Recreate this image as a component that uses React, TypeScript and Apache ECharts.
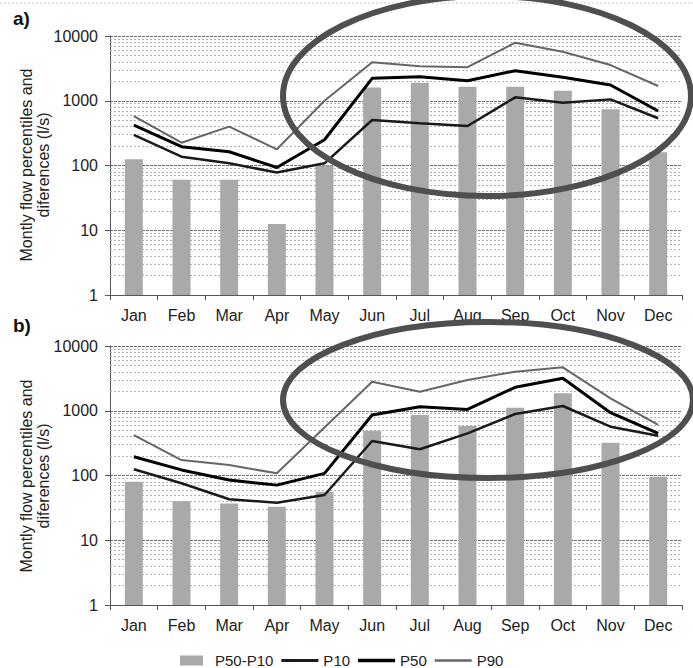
import React, { useEffect, useRef } from "react";
import * as echarts from "echarts";

const months = ["Jan", "Feb", "Mar", "Apr", "May", "Jun", "Jul", "Aug", "Sep", "Oct", "Nov", "Dec"];

// Panel a)
const diffA = [125, 60, 60, 12.5, 100, 1600, 1900, 1650, 1650, 1430, 740, 160];
const p10A = [296, 137, 108, 78, 108, 504, 448, 407, 1130, 933, 1050, 536];
const p50A = [422, 195, 163, 93, 250, 2220, 2350, 2040, 2910, 2300, 1750, 695];
const p90A = [581, 225, 398, 178, 1000, 3925, 3400, 3300, 7880, 5720, 3560, 1690];

// Panel b)
const diffB = [80, 40, 37, 33, 56, 490, 860, 580, 1110, 1860, 320, 96];
const p10B = [125, 76, 43, 38, 50, 341, 254, 448, 891, 1184, 567, 410];
const p50B = [195, 122, 85, 71, 108, 860, 1155, 1050, 2300, 3170, 933, 448];
const p90B = [422, 173, 145, 108, 550, 2810, 1970, 2985, 4010, 4690, 1557, 603];

const yTicks = [1, 10, 100, 1000, 10000];
const minorGrid = [
  2, 3, 4, 5, 6, 7, 8, 9,
  20, 30, 40, 50, 60, 70, 80, 90,
  200, 300, 400, 500, 600, 700, 800, 900,
  2000, 3000, 4000, 5000, 6000, 7000, 8000, 9000,
];

const FONT = "'Liberation Sans', Arial, sans-serif";

function buildOption() {
  const grids = [
    { left: 110, top: 36, width: 572, height: 259 },
    { left: 110, top: 346, width: 572, height: 259 },
  ];
  const xAxes = [0, 1].map((i) => ({
    type: "category",
    gridIndex: i,
    data: months,
    boundaryGap: true,
    axisLine: { lineStyle: { color: "#555", width: 1 } },
    axisTick: { show: true, length: 5, lineStyle: { color: "#555" } },
    axisLabel: { fontSize: 16, color: "#222", margin: 12, interval: 0, fontFamily: FONT },
    splitLine: { show: false },
  }));
  const yAxes = [0, 1].map((i) => ({
    type: "log",
    logBase: 10,
    gridIndex: i,
    min: yTicks[0],
    max: yTicks[yTicks.length - 1],
    axisLine: { show: true, lineStyle: { color: "#555" } },
    axisTick: { show: true, length: 5, lineStyle: { color: "#555" } },
    axisLabel: {
      fontSize: 16,
      color: "#222",
      margin: 12,
      fontFamily: FONT,
      formatter: (v: number) => String(Math.round(v)),
    },
    splitLine: { show: true, lineStyle: { color: "#6e6e6e", type: [3, 1], width: 1 } },
  }));

  const panel = (i: number, diff: number[], p10: number[], p50: number[], p90: number[]) => [
    {
      name: "P50-P10",
      type: "bar",
      xAxisIndex: i,
      yAxisIndex: i,
      data: diff,
      barWidth: 18,
      itemStyle: { color: "#a9a9a9" },
      z: 3,
      markLine: {
        silent: true,
        symbol: ["none", "none"],
        label: { show: false },
        z: 1,
        lineStyle: { color: "#b0b0b0", type: [2, 2], width: 1 },
        data: minorGrid.map((v) => ({ yAxis: v })),
      },
    },
    {
      name: "P10",
      type: "line",
      xAxisIndex: i,
      yAxisIndex: i,
      data: p10,
      symbol: "none",
      lineStyle: { color: "#1a1a1a", width: 2.5 },
      itemStyle: { color: "#1a1a1a" },
      z: 4,
    },
    {
      name: "P50",
      type: "line",
      xAxisIndex: i,
      yAxisIndex: i,
      data: p50,
      symbol: "none",
      lineStyle: { color: "#000", width: 3 },
      itemStyle: { color: "#000" },
      z: 4,
    },
    {
      name: "P90",
      type: "line",
      xAxisIndex: i,
      yAxisIndex: i,
      data: p90,
      symbol: "none",
      lineStyle: { color: "#666", width: 2 },
      itemStyle: { color: "#666" },
      z: 4,
    },
  ];

  const yTitle = (y: number) => ({
    type: "text",
    x: 35,
    y,
    rotation: Math.PI / 2,
    style: {
      text: "Montly flow percentiles and\ndiferences (l/s)",
      fontSize: 16,
      fontFamily: FONT,
      fill: "#222",
      align: "center",
      verticalAlign: "middle",
      lineHeight: 17,
    },
  });

  return {
    animation: false,
    backgroundColor: "#fff",
    textStyle: { fontFamily: FONT },
    grid: grids,
    xAxis: xAxes,
    yAxis: yAxes,
    legend: {
      data: [
        { name: "P50-P10", icon: "path://M0,0H23V10H0Z" },
        { name: "P10", icon: "path://M0,0H38V3H0Z" },
        { name: "P50", icon: "path://M0,0H38V3.6H0Z" },
        { name: "P90", icon: "path://M0,0H38V2.6H0Z" },
      ],
      left: 180,
      top: 653,
      padding: 0,
      itemWidth: 37,
      itemHeight: 10,
      itemGap: 8,
      textStyle: { fontSize: 15, color: "#222", fontFamily: FONT },
    },
    series: [...panel(0, diffA, p10A, p50A, p90A), ...panel(1, diffB, p10B, p50B, p90B)],
    graphic: [
      {
        type: "line",
        shape: { x1: 0, y1: 3, x2: 693, y2: 3 },
        style: { stroke: "#c8c8c8", lineWidth: 1, lineDash: [2, 2] },
        z: 1,
      },
      {
        type: "text",
        x: 13,
        y: 18,
        style: { text: "a)", fontSize: 19, fontWeight: "bold", fontFamily: FONT, fill: "#111", verticalAlign: "middle" },
      },
      {
        type: "text",
        x: 13,
        y: 325,
        style: { text: "b)", fontSize: 19, fontWeight: "bold", fontFamily: FONT, fill: "#111", verticalAlign: "middle" },
      },
      yTitle(165),
      yTitle(476),
      {
        type: "ellipse",
        shape: { cx: 487, cy: 96, rx: 204, ry: 100 },
        style: { fill: "transparent", stroke: "#4f4f4f", lineWidth: 6 },
        z: 100,
      },
      {
        type: "ellipse",
        shape: { cx: 488, cy: 400, rx: 205, ry: 78 },
        style: { fill: "transparent", stroke: "#4f4f4f", lineWidth: 6 },
        z: 100,
      },
    ],
  };
}

export default function App() {
  const ref = useRef<HTMLDivElement>(null);
  useEffect(() => {
    if (!ref.current) return;
    const chart = echarts.init(ref.current, undefined, { renderer: "svg" });
    chart.setOption(buildOption() as any);
    return () => chart.dispose();
  }, []);
  return (
    <div
      ref={ref}
      style={{ position: "absolute", left: 0, top: 0, width: 693, height: 668, background: "#fff" }}
    />
  );
}
